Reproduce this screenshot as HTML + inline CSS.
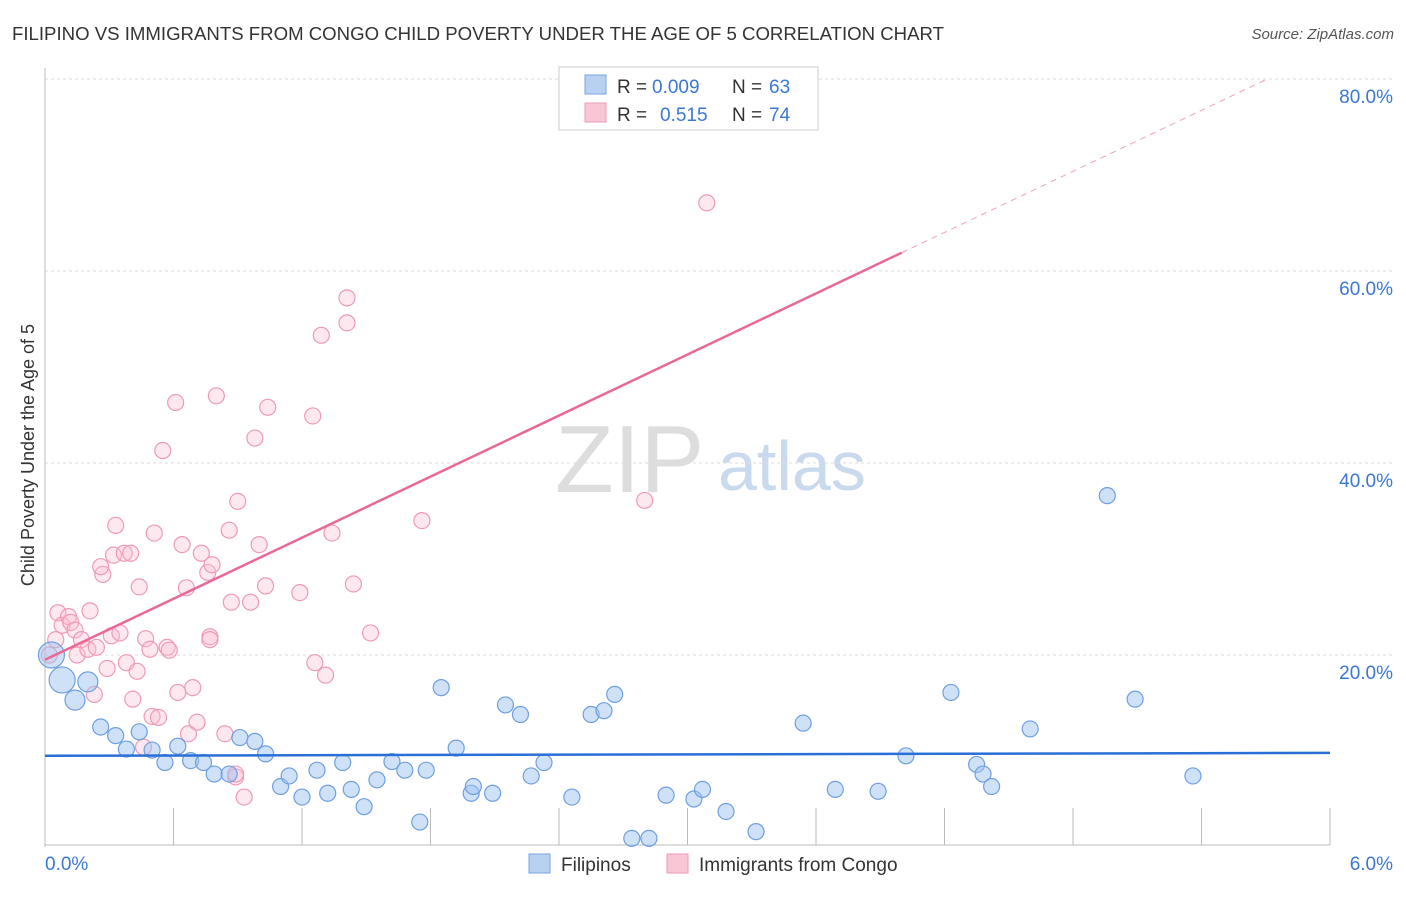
<!DOCTYPE html>
<html><head><meta charset="utf-8"><style>
body{margin:0;background:#fff;font-family:"Liberation Sans",sans-serif;}
svg text{font-family:"Liberation Sans",sans-serif;}
</style></head><body>
<svg id="chart" width="1406" height="892">
<text x="12" y="40" font-size="18" fill="#333" textLength="932" lengthAdjust="spacingAndGlyphs">FILIPINO VS IMMIGRANTS FROM CONGO CHILD POVERTY UNDER THE AGE OF 5 CORRELATION CHART</text>
<text x="1394" y="39" font-size="15" fill="#555" text-anchor="end" font-style="italic">Source: ZipAtlas.com</text>
<text x="34" y="455" font-size="18" fill="#333" text-anchor="middle" transform="rotate(-90 34 455)">Child Poverty Under the Age of 5</text>
<text x="555" y="492" font-size="96" fill="#ddd" font-family="Liberation Serif">ZIP</text>
<text x="718" y="490" font-size="70" fill="#c9d9ee">atlas</text>
<g id="grid"></g><g id="pts"></g><g id="lines"></g>
<g>
<rect x="559" y="67" width="259" height="63" fill="#fff" stroke="#ccc"/>
<rect x="585" y="75" width="21" height="19" fill="#b8d1f3" stroke="#7aa3e0"/>
<rect x="585" y="103" width="21" height="19" fill="#f9c6d6" stroke="#ee99b5"/>
<text x="617" y="93" font-size="19" fill="#333">R =</text>
<text x="652" y="93" font-size="19" fill="#3a78d4">0.009</text>
<text x="732" y="93" font-size="19" fill="#333">N =</text>
<text x="769" y="93" font-size="19" fill="#3a78d4">63</text>
<text x="617" y="121" font-size="19" fill="#333">R =</text>
<text x="660" y="121" font-size="19" fill="#3a78d4">0.515</text>
<text x="732" y="121" font-size="19" fill="#333">N =</text>
<text x="769" y="121" font-size="19" fill="#3a78d4">74</text>
</g>
<g>
<rect x="529" y="854" width="21" height="19" fill="#b8d1f3" stroke="#7aa3e0"/>
<text x="561" y="871" font-size="19" fill="#333">Filipinos</text>
<rect x="667" y="854" width="21" height="19" fill="#f9c6d6" stroke="#ee99b5"/>
<text x="699" y="871" font-size="19" fill="#333">Immigrants from Congo</text>
</g>
</svg>
<script>
const xTicks=[0,6];
const yTicks=[20,40,60,80];
const blueX=[0.03,0.08,0.2,0.14,0.26,0.33,0.38,0.44,0.5,0.56,0.62,0.68,0.74,0.79,0.86,0.91,0.98,1.03,1.1,1.14,1.2,1.27,1.32,1.39,1.43,1.49,1.55,1.62,1.68,1.75,1.78,1.85,1.92,1.99,2.0,2.09,2.15,2.22,2.27,2.33,2.46,2.55,2.61,2.66,2.74,2.82,2.9,3.03,3.07,3.18,3.32,3.54,3.69,3.89,4.02,4.23,4.35,4.38,4.42,4.6,4.96,5.09,5.36];
const blueY=[20.0,17.4,17.2,15.3,12.5,11.6,10.2,12.0,10.1,8.8,10.5,9.0,8.8,7.6,7.6,11.4,11.0,9.7,6.3,7.4,5.2,8.0,5.6,8.8,6.0,4.2,7.0,8.9,8.0,2.6,8.0,16.6,10.3,5.6,6.3,5.6,14.8,13.8,7.4,8.8,5.2,13.8,14.2,15.9,0.9,0.9,5.4,5.0,6.0,3.7,1.6,12.9,6.0,5.8,9.5,16.1,8.6,7.6,6.3,12.3,36.6,15.4,7.4];
const blueR=[13,13,10,10,8,8,8,8,8,8,8,8,8,8,8,8,8,8,8,8,8,8,8,8,8,8,8,8,8,8,8,8,8,8,8,8,8,8,8,8,8,8,8,8,8,8,8,8,8,8,8,8,8,8,8,8,8,8,8,8,8,8,8];
const pinkX=[0.02,0.05,0.06,0.08,0.11,0.12,0.14,0.15,0.17,0.2,0.21,0.23,0.24,0.27,0.26,0.29,0.31,0.32,0.33,0.35,0.37,0.38,0.4,0.41,0.43,0.44,0.47,0.49,0.5,0.51,0.53,0.55,0.57,0.58,0.61,0.62,0.64,0.66,0.69,0.67,0.71,0.73,0.76,0.77,0.78,0.8,0.84,0.86,0.87,0.89,0.9,0.93,0.96,0.98,1.0,1.03,1.04,1.19,1.25,1.26,1.29,1.31,1.34,1.41,1.41,1.44,1.52,1.76,2.8,3.09,0.46,0.89,0.77];
const pinkY=[20.0,21.6,24.4,23.1,24.0,23.4,22.6,20.0,21.6,20.6,24.6,15.9,20.8,28.4,29.2,18.6,22.0,30.4,33.5,22.3,30.6,19.2,30.6,15.4,18.3,27.1,21.7,20.6,13.6,32.7,13.5,41.3,20.8,20.5,46.3,16.1,31.5,27.0,16.6,11.8,13.0,30.6,28.6,21.9,29.4,47.0,11.8,33.0,25.5,7.3,36.0,5.2,25.5,42.6,31.5,27.2,45.8,26.5,44.9,19.2,53.3,17.9,32.7,57.2,54.6,27.4,22.3,34.0,36.1,67.1,10.4,7.6,21.6];
const trendIntercept=[9.5,19.5];
const trendSlope=[0.05,10.6];
const X0=45,X1=1330,Y0=847;
const sx=v=>X0+(v/6)*(X1-X0);
const sy=v=>Y0-v*9.6;
const NS='http://www.w3.org/2000/svg';
function mk(tag,attrs,parent){const e=document.createElementNS(NS,tag);for(const k in attrs)e.setAttribute(k,attrs[k]);parent.appendChild(e);return e;}
const grid=document.getElementById('grid');
yTicks.forEach(t=>{
 const l=mk('line',{x1:X0,x2:1394,y1:sy(t),y2:sy(t),stroke:'#ddd','stroke-dasharray':'3,3'},grid);
 
 
 const tx=mk('text',{x:1393,y:sy(t)+24,'font-size':19,fill:'#3a78d4','text-anchor':'end'},grid);
 tx.textContent=t.toFixed(1)+'%';
 
 
});
mk('line',{x1:X0,x2:X0,y1:68,y2:847,stroke:'#bbb'},grid);
mk('line',{x1:X0,x2:X1,y1:845,y2:845,stroke:'#bbb'},grid);
for(let i=0;i<=10;i++){const x=sx(i*0.6);mk('line',{x1:x,x2:x,y1:808,y2:845,stroke:'#bbb'},grid);}
xTicks.forEach((t,i)=>{
 const tx=mk('text',{x:i==0?45:1393,y:870,'font-size':19,fill:'#3a78d4','text-anchor':i==0?'start':'end'},grid);
 tx.textContent=t.toFixed(1)+'%';
 
 
});
const pts=document.getElementById('pts');
pinkX.forEach((v,i)=>{
 const c=mk('circle',{cx:sx(v),cy:sy(pinkY[i]),r:8,fill:'rgba(249,190,210,0.35)',stroke:'#ee9ab6','stroke-width':1.2},pts);
 
 
});
blueX.forEach((v,i)=>{
 const c=mk('circle',{cx:sx(v),cy:sy(blueY[i]),r:blueR[i],fill:'rgba(160,195,240,0.5)',stroke:'#6f9fe0','stroke-width':1.2},pts);
 
 
});
const lines=document.getElementById('lines');
const bl=mk('line',{x1:sx(0),y1:sy(trendIntercept[0]),x2:sx(6),y2:sy(trendIntercept[0]+6*trendSlope[0]),stroke:'#2a6fd6','stroke-width':2.5},lines);


const pl=mk('line',{x1:sx(0),y1:sy(trendIntercept[1]),x2:sx(4),y2:sy(trendIntercept[1]+4*trendSlope[1]),stroke:'#e8689a','stroke-width':2.5},lines);


const xe=(80-trendIntercept[1])/trendSlope[1];
const pd=mk('line',{x1:sx(4),y1:sy(trendIntercept[1]+4*trendSlope[1]),x2:sx(xe),y2:sy(80),stroke:'#f0a0bd','stroke-width':1,'stroke-dasharray':'6,5'},lines);


</script>
</body></html>
